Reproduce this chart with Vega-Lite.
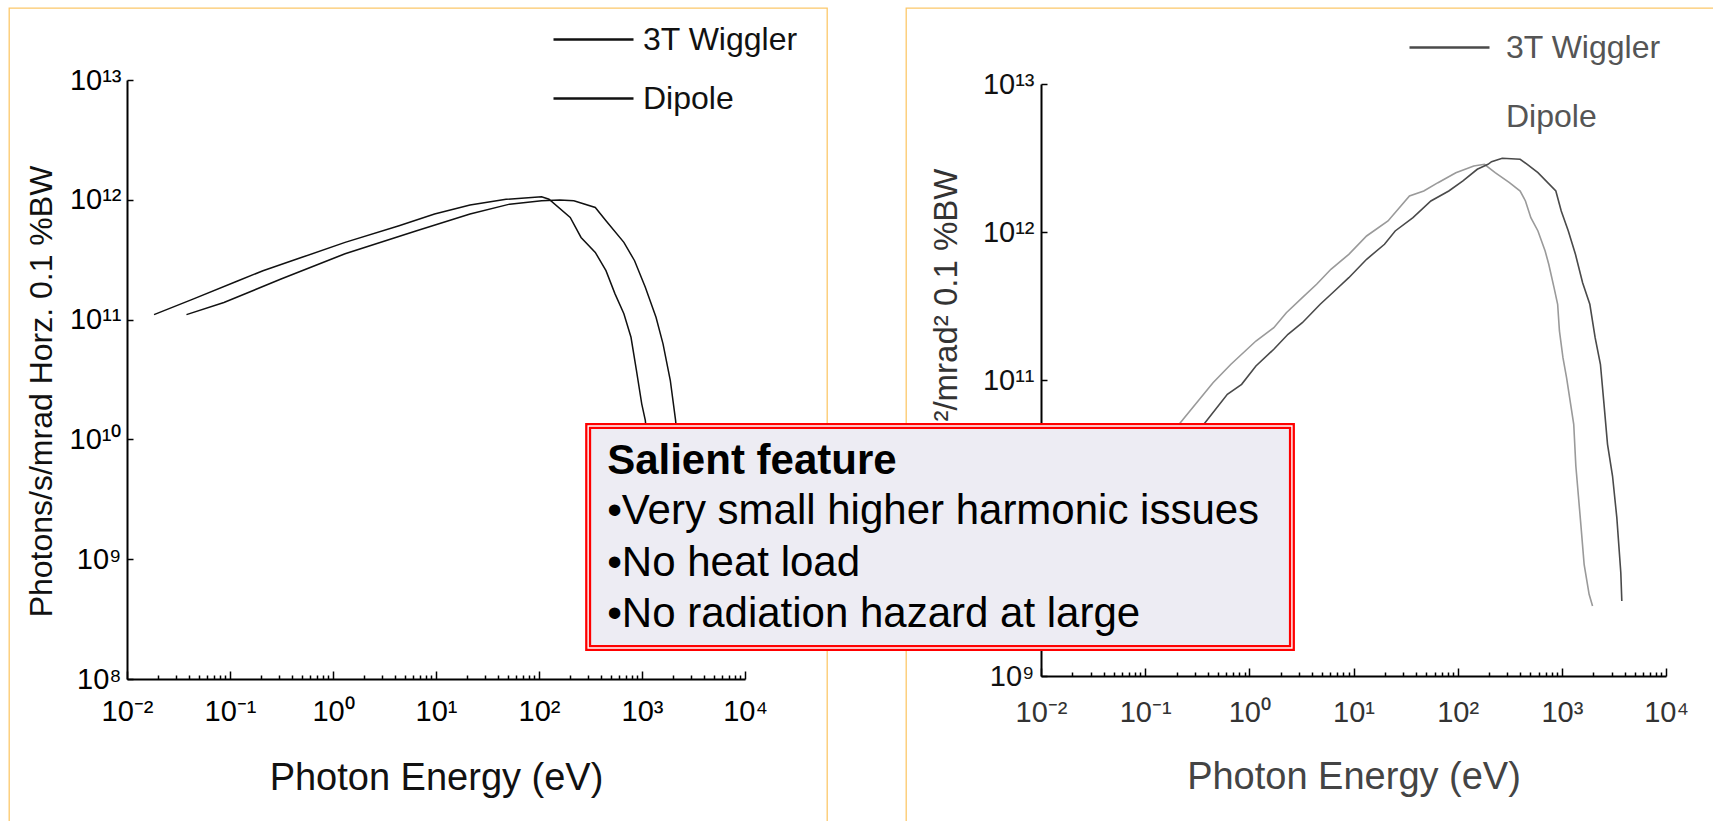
{
  "$schema": "https://vega.github.io/schema/vega-lite/v6.json",
  "background": "white",
  "padding": {"left": 8, "top": 7, "right": 0, "bottom": 0},
  "bounds": "flush",
  "spacing": 79,
  "resolve": {"scale": {"color": "independent"}, "legend": {"color": "independent"}},
  "config": {
    "font": "Liberation Sans",
    "axis": {
      "grid": false,
      "labelFont": "Liberation Sans",
      "titleFont": "Liberation Sans",
      "titleFontWeight": "normal",
      "labelOverlap": false,
      "labelFlush": false,
      "labelBound": false,
      "domainColor": "#000000",
      "domainWidth": 2,
      "tickColor": "#000000",
      "tickWidth": 1.5
    },
    "legend": {"labelFont": "Liberation Sans"}
  },
  "datasets": {
    "bending_flux": [
      {"energy_eV": 0.0183, "flux": 1.10e11, "source": "Dipole"},
      {"energy_eV": 0.0443, "flux": 1.49e11, "source": "Dipole"},
      {"energy_eV": 0.120, "flux": 2.11e11, "source": "Dipole"},
      {"energy_eV": 0.209, "flux": 2.56e11, "source": "Dipole"},
      {"energy_eV": 0.500, "flux": 3.31e11, "source": "Dipole"},
      {"energy_eV": 1.31, "flux": 4.41e11, "source": "Dipole"},
      {"energy_eV": 4.38, "flux": 6.07e11, "source": "Dipole"},
      {"energy_eV": 9.68, "flux": 7.60e11, "source": "Dipole"},
      {"energy_eV": 21.4, "flux": 9.04e11, "source": "Dipole"},
      {"energy_eV": 47.9, "flux": 1.01e12, "source": "Dipole"},
      {"energy_eV": 106, "flux": 1.06e12, "source": "Dipole"},
      {"energy_eV": 125, "flux": 1.01e12, "source": "Dipole"},
      {"energy_eV": 201, "flux": 7.12e11, "source": "Dipole"},
      {"energy_eV": 256, "flux": 4.85e11, "source": "Dipole"},
      {"energy_eV": 352, "flux": 3.64e11, "source": "Dipole"},
      {"energy_eV": 447, "flux": 2.56e11, "source": "Dipole"},
      {"energy_eV": 547, "flux": 1.64e11, "source": "Dipole"},
      {"energy_eV": 667, "flux": 1.12e11, "source": "Dipole"},
      {"energy_eV": 782, "flux": 7.12e10, "source": "Dipole"},
      {"energy_eV": 883, "flux": 3.76e10, "source": "Dipole"},
      {"energy_eV": 994, "flux": 1.98e10, "source": "Dipole"},
      {"energy_eV": 1077, "flux": 1.44e10, "source": "Dipole"},
      {"energy_eV": 1170, "flux": 6.7e9, "source": "Dipole"},
      {"energy_eV": 0.0378, "flux": 1.10e11, "source": "3T Wiggler"},
      {"energy_eV": 0.0873, "flux": 1.39e11, "source": "3T Wiggler"},
      {"energy_eV": 0.313, "flux": 2.18e11, "source": "3T Wiggler"},
      {"energy_eV": 1.31, "flux": 3.55e11, "source": "3T Wiggler"},
      {"energy_eV": 6.49, "flux": 5.52e11, "source": "3T Wiggler"},
      {"energy_eV": 21.4, "flux": 7.60e11, "source": "3T Wiggler"},
      {"energy_eV": 51.9, "flux": 9.20e11, "source": "3T Wiggler"},
      {"energy_eV": 106, "flux": 9.81e11, "source": "3T Wiggler"},
      {"energy_eV": 159, "flux": 9.94e11, "source": "3T Wiggler"},
      {"energy_eV": 218, "flux": 9.81e11, "source": "3T Wiggler"},
      {"energy_eV": 352, "flux": 8.63e11, "source": "3T Wiggler"},
      {"energy_eV": 447, "flux": 6.68e11, "source": "3T Wiggler"},
      {"energy_eV": 667, "flux": 4.41e11, "source": "3T Wiggler"},
      {"energy_eV": 847, "flux": 3.10e11, "source": "3T Wiggler"},
      {"energy_eV": 1077, "flux": 1.86e11, "source": "3T Wiggler"},
      {"energy_eV": 1368, "flux": 1.045e11, "source": "3T Wiggler"},
      {"energy_eV": 1600, "flux": 6.28e10, "source": "3T Wiggler"},
      {"energy_eV": 1884, "flux": 3.10e10, "source": "3T Wiggler"},
      {"energy_eV": 2119, "flux": 1.44e10, "source": "3T Wiggler"},
      {"energy_eV": 2285, "flux": 6.7e9, "source": "3T Wiggler"}
    ],
    "brightness": [
      {"energy_eV": 0.0377, "flux": 1.115e10, "source": "Dipole"},
      {"energy_eV": 0.239, "flux": 5.57e10, "source": "Dipole"},
      {"energy_eV": 0.448, "flux": 9.59e10, "source": "Dipole"},
      {"energy_eV": 0.666, "flux": 1.277e11, "source": "Dipole"},
      {"energy_eV": 1.157, "flux": 1.834e11, "source": "Dipole"},
      {"energy_eV": 1.718, "flux": 2.257e11, "source": "Dipole"},
      {"energy_eV": 2.266, "flux": 2.849e11, "source": "Dipole"},
      {"energy_eV": 3.226, "flux": 3.598e11, "source": "Dipole"},
      {"energy_eV": 4.425, "flux": 4.432e11, "source": "Dipole"},
      {"energy_eV": 6.069, "flux": 5.598e11, "source": "Dipole"},
      {"energy_eV": 9.015, "flux": 7.068e11, "source": "Dipole"},
      {"energy_eV": 13.36, "flux": 9.40e11, "source": "Dipole"},
      {"energy_eV": 21.44, "flux": 1.187e12, "source": "Dipole"},
      {"energy_eV": 34.46, "flux": 1.751e12, "source": "Dipole"},
      {"energy_eV": 47.29, "flux": 1.892e12, "source": "Dipole"},
      {"energy_eV": 64.71, "flux": 2.154e12, "source": "Dipole"},
      {"energy_eV": 96.1, "flux": 2.516e12, "source": "Dipole"},
      {"energy_eV": 142.7, "flux": 2.792e12, "source": "Dipole"},
      {"energy_eV": 180.8, "flux": 2.867e12, "source": "Dipole"},
      {"energy_eV": 229.0, "flux": 2.516e12, "source": "Dipole"},
      {"energy_eV": 314.1, "flux": 2.154e12, "source": "Dipole"},
      {"energy_eV": 398.0, "flux": 1.892e12, "source": "Dipole"},
      {"energy_eV": 447.4, "flux": 1.620e12, "source": "Dipole"},
      {"energy_eV": 504.1, "flux": 1.249e12, "source": "Dipole"},
      {"energy_eV": 589.7, "flux": 1.016e12, "source": "Dipole"},
      {"energy_eV": 691.3, "flux": 7.44e11, "source": "Dipole"},
      {"energy_eV": 748.9, "flux": 6.05e11, "source": "Dipole"},
      {"energy_eV": 841.8, "flux": 4.205e11, "source": "Dipole"},
      {"energy_eV": 911.6, "flux": 3.248e11, "source": "Dipole"},
      {"energy_eV": 948.5, "flux": 2.144e11, "source": "Dipole"},
      {"energy_eV": 1025, "flux": 1.415e11, "source": "Dipole"},
      {"energy_eV": 1110, "flux": 1.036e11, "source": "Dipole"},
      {"energy_eV": 1301, "flux": 5.02e10, "source": "Dipole"},
      {"energy_eV": 1363, "flux": 2.624e10, "source": "Dipole"},
      {"energy_eV": 1522, "flux": 1.059e10, "source": "Dipole"},
      {"energy_eV": 1637, "flux": 5.684e9, "source": "Dipole"},
      {"energy_eV": 1828, "flux": 3.565e9, "source": "Dipole"},
      {"energy_eV": 1971, "flux": 2.972e9, "source": "Dipole"},
      {"energy_eV": 0.0684, "flux": 1.115e10, "source": "3T Wiggler"},
      {"energy_eV": 0.399, "flux": 5.43e10, "source": "3T Wiggler"},
      {"energy_eV": 0.615, "flux": 8.01e10, "source": "3T Wiggler"},
      {"energy_eV": 0.8435, "flux": 9.35e10, "source": "3T Wiggler"},
      {"energy_eV": 1.157, "flux": 1.243e11, "source": "3T Wiggler"},
      {"energy_eV": 1.718, "flux": 1.613e11, "source": "3T Wiggler"},
      {"energy_eV": 2.351, "flux": 2.036e11, "source": "3T Wiggler"},
      {"energy_eV": 3.226, "flux": 2.439e11, "source": "3T Wiggler"},
      {"energy_eV": 4.79, "flux": 3.248e11, "source": "3T Wiggler"},
      {"energy_eV": 6.573, "flux": 3.994e11, "source": "3T Wiggler"},
      {"energy_eV": 9.015, "flux": 4.912e11, "source": "3T Wiggler"},
      {"energy_eV": 13.36, "flux": 6.54e11, "source": "3T Wiggler"},
      {"energy_eV": 19.84, "flux": 8.26e11, "source": "3T Wiggler"},
      {"energy_eV": 25.13, "flux": 1.016e12, "source": "3T Wiggler"},
      {"energy_eV": 37.24, "flux": 1.249e12, "source": "3T Wiggler"},
      {"energy_eV": 55.33, "flux": 1.620e12, "source": "3T Wiggler"},
      {"energy_eV": 82.17, "flux": 1.892e12, "source": "3T Wiggler"},
      {"energy_eV": 112.4, "flux": 2.212e12, "source": "3T Wiggler"},
      {"energy_eV": 154.2, "flux": 2.653e12, "source": "3T Wiggler"},
      {"energy_eV": 195.4, "flux": 2.867e12, "source": "3T Wiggler"},
      {"energy_eV": 211.5, "flux": 2.985e12, "source": "3T Wiggler"},
      {"energy_eV": 267.9, "flux": 3.148e12, "source": "3T Wiggler"},
      {"energy_eV": 398.0, "flux": 3.099e12, "source": "3T Wiggler"},
      {"energy_eV": 465.5, "flux": 2.867e12, "source": "3T Wiggler"},
      {"energy_eV": 589.7, "flux": 2.516e12, "source": "3T Wiggler"},
      {"energy_eV": 875.9, "flux": 1.892e12, "source": "3T Wiggler"},
      {"energy_eV": 987.0, "flux": 1.387e12, "source": "3T Wiggler"},
      {"energy_eV": 1154, "flux": 1.016e12, "source": "3T Wiggler"},
      {"energy_eV": 1351, "flux": 7.068e11, "source": "3T Wiggler"},
      {"energy_eV": 1583, "flux": 4.544e11, "source": "3T Wiggler"},
      {"energy_eV": 1857, "flux": 3.248e11, "source": "3T Wiggler"},
      {"energy_eV": 2088, "flux": 1.931e11, "source": "3T Wiggler"},
      {"energy_eV": 2347, "flux": 1.277e11, "source": "3T Wiggler"},
      {"energy_eV": 2541, "flux": 6.85e10, "source": "3T Wiggler"},
      {"energy_eV": 2746, "flux": 3.678e10, "source": "3T Wiggler"},
      {"energy_eV": 3067, "flux": 2.245e10, "source": "3T Wiggler"},
      {"energy_eV": 3372, "flux": 1.174e10, "source": "3T Wiggler"},
      {"energy_eV": 3683, "flux": 4.989e9, "source": "3T Wiggler"},
      {"energy_eV": 3766, "flux": 3.212e9, "source": "3T Wiggler"}
    ],
    "note": [
      {"heading": "Salient feature", "bullets": ["•Very small higher harmonic issues", "•No heat load", "•No radiation hazard at large"]}
    ]
  },
  "hconcat": [
    {
      "width": 818,
      "height": 813,
      "view": {"stroke": "#FCC86A", "strokeWidth": 1.3, "strokeDash": [1631, 818, 813, 0]},
      "data": {"name": "bending_flux"},
      "mark": {"type": "line", "strokeWidth": 1.5},
      "encoding": {
        "x": {
          "field": "energy_eV", "type": "quantitative",
          "scale": {"type": "log", "domain": [0.01, 10000], "range": [118, 736], "nice": false},
          "axis": {
            "orient": "bottom", "offset": -142,
            "values": [0.01,0.02,0.03,0.04,0.05,0.06,0.07,0.08,0.09,0.1,0.2,0.3,0.4,0.5,0.6,0.7,0.8,0.9,1,2,3,4,5,6,7,8,9,10,20,30,40,50,60,70,80,90,100,200,300,400,500,600,700,800,900,1000,2000,3000,4000,5000,6000,7000,8000,9000,10000],
            "labelExpr": "abs(log(datum.value)/LN10 - round(log(datum.value)/LN10)) < 1e-6 ? '10' + ['⁻²','⁻¹','⁰','¹','²','³','⁴','⁵','⁶','⁷','⁸','⁹','¹⁰','¹¹','¹²','¹³'][round(log(datum.value)/LN10) + 2] : ''",
            "tickSize": {"condition": {"test": "abs(log(datum.value)/LN10 - round(log(datum.value)/LN10)) < 1e-6", "value": -8}, "value": -4},
            "labelPadding": 26,
            "labelFontSize": 29,
            "labelColor": "#000000",
            "title": "Photon Energy (eV)",
            "titleFontSize": 38,
            "titleColor": "#111111",
            "titlePadding": 40,
            "minExtent": 40,
            "maxExtent": 40
          }
        },
        "y": {
          "field": "flux", "type": "quantitative",
          "scale": {"type": "log", "domain": [1e8, 1e13], "range": [671, 72], "nice": false},
          "axis": {
            "orient": "left", "offset": -118,
            "values": [1e8, 1e9, 1e10, 1e11, 1e12, 1e13],
            "labelExpr": "'10' + ['⁻²','⁻¹','⁰','¹','²','³','⁴','⁵','⁶','⁷','⁸','⁹','¹⁰','¹¹','¹²','¹³'][round(log(datum.value)/LN10) + 2]",
            "tickSize": -6,
            "labelPadding": 12,
            "labelFontSize": 29,
            "labelColor": "#000000",
            "title": "Photons/s/mrad Horz. 0.1 %BW",
            "titleFontSize": 32,
            "titleColor": "#111111",
            "titlePadding": 13,
            "titleY": 383,
            "minExtent": 56,
            "maxExtent": 56
          }
        },
        "color": {
          "field": "source", "type": "nominal",
          "scale": {"domain": ["3T Wiggler", "Dipole"], "range": ["#111111", "#111111"]},
          "legend": {
            "orient": "none", "legendX": 563, "legendY": 10,
            "title": null, "padding": 0,
            "symbolType": "M-2,0H2", "symbolSize": 1600, "symbolStrokeWidth": 2.5,
            "symbolStrokeColor": "#000000",
            "labelFontSize": 32, "labelOffset": 28, "labelColor": "#111111",
            "rowPadding": 21
          }
        }
      }
    },
    {
      "width": 807,
      "height": 813,
      "view": {"stroke": "#FCC86A", "strokeWidth": 1.3, "strokeDash": [807, 1620, 813, 0]},
      "layer": [
        {
          "data": {"name": "brightness"},
          "mark": {"type": "line", "strokeWidth": 1.6},
          "encoding": {
            "x": {
              "field": "energy_eV", "type": "quantitative",
              "scale": {"type": "log", "domain": [0.01, 10000], "range": [135, 760], "nice": false},
              "axis": {
                "orient": "bottom", "offset": -145,
                "values": [0.01,0.02,0.03,0.04,0.05,0.06,0.07,0.08,0.09,0.1,0.2,0.3,0.4,0.5,0.6,0.7,0.8,0.9,1,2,3,4,5,6,7,8,9,10,20,30,40,50,60,70,80,90,100,200,300,400,500,600,700,800,900,1000,2000,3000,4000,5000,6000,7000,8000,9000,10000],
                "labelExpr": "abs(log(datum.value)/LN10 - round(log(datum.value)/LN10)) < 1e-6 ? '10' + ['⁻²','⁻¹','⁰','¹','²','³','⁴','⁵','⁶','⁷','⁸','⁹','¹⁰','¹¹','¹²','¹³'][round(log(datum.value)/LN10) + 2] : ''",
                "tickSize": {"condition": {"test": "abs(log(datum.value)/LN10 - round(log(datum.value)/LN10)) < 1e-6", "value": -8}, "value": -4},
                "labelPadding": 30,
                "labelFontSize": 29,
                "labelColor": "#333333",
                "title": "Photon Energy (eV)",
                "titleFontSize": 38,
                "titleColor": "#444444",
                "titlePadding": 42,
                "minExtent": 40,
                "maxExtent": 40
              }
            },
            "y": {
              "field": "flux", "type": "quantitative",
              "scale": {"type": "log", "domain": [1e9, 1e13], "range": [668, 76], "nice": false},
              "axis": {
                "orient": "left", "offset": -135,
                "values": [1e9, 1e10, 1e11, 1e12, 1e13],
                "labelExpr": "'10' + ['⁻²','⁻¹','⁰','¹','²','³','⁴','⁵','⁶','⁷','⁸','⁹','¹⁰','¹¹','¹²','¹³'][round(log(datum.value)/LN10) + 2]",
                "tickSize": -6,
                "labelPadding": 13,
                "labelFontSize": 29,
                "labelColor": "#111111",
                "title": "Photons/s/mm²/mrad² 0.1 %BW",
                "titleFontSize": 33,
                "titleColor": "#333333",
                "titlePadding": 22,
                "titleY": 392,
                "minExtent": 56,
                "maxExtent": 56
              }
            },
            "color": {
              "field": "source", "type": "nominal",
              "scale": {"domain": ["3T Wiggler", "Dipole"], "range": ["#4a4a4a", "#9a9a9a"]},
              "legend": {
                "orient": "none", "legendX": 522, "legendY": 18,
                "title": null, "padding": 0,
                "symbolType": "M-2,0H2", "symbolSize": 1600, "symbolStrokeWidth": 2.5,
                "symbolStrokeColor": "#000000",
                "symbolOpacity": {"expr": "datum.label === 'Dipole' ? 0 : 1"},
                "labelFontSize": 32, "labelOffset": 35, "labelColor": "#555555",
                "rowPadding": 31
              }
            }
          }
        },
        {
          "data": {"name": "note"},
          "mark": {"type": "rect", "fill": "#EDECF3", "stroke": "#FF0000", "strokeWidth": 6},
          "encoding": {
            "x": {"datum": 4.494e-7, "type": "quantitative", "scale": {"type": "log", "domain": [0.01, 10000], "range": [135, 760], "nice": false}},
            "x2": {"datum": 2.5636},
            "y": {"datum": 4.889e10, "type": "quantitative", "scale": {"type": "log", "domain": [1e9, 1e13], "range": [668, 76], "nice": false}},
            "y2": {"datum": 1.546e9}
          }
        },
        {
          "data": {"name": "note"},
          "mark": {"type": "rect", "fill": null, "fillOpacity": 0, "stroke": "#FFFFFF", "strokeWidth": 1.4},
          "encoding": {
            "x": {"datum": 4.494e-7, "type": "quantitative"},
            "x2": {"datum": 2.5636},
            "y": {"datum": 4.889e10, "type": "quantitative"},
            "y2": {"datum": 1.546e9}
          }
        },
        {
          "data": {"name": "note"},
          "mark": {"type": "text", "align": "left", "baseline": "alphabetic", "fontSize": 42, "fontWeight": "bold", "font": "Liberation Sans", "color": "#000000"},
          "encoding": {
            "x": {"datum": 6.84e-7, "type": "quantitative"},
            "y": {"datum": 2.306e10, "type": "quantitative"},
            "text": {"field": "heading", "type": "nominal"}
          }
        },
        {
          "data": {"name": "note"},
          "mark": {"type": "text", "align": "left", "baseline": "alphabetic", "fontSize": 42, "lineHeight": 51.5, "font": "Liberation Sans", "color": "#000000"},
          "encoding": {
            "x": {"datum": 6.84e-7, "type": "quantitative"},
            "y": {"datum": 1.059e10, "type": "quantitative"},
            "text": {"field": "bullets", "type": "nominal"}
          }
        }
      ]
    }
  ]
}
